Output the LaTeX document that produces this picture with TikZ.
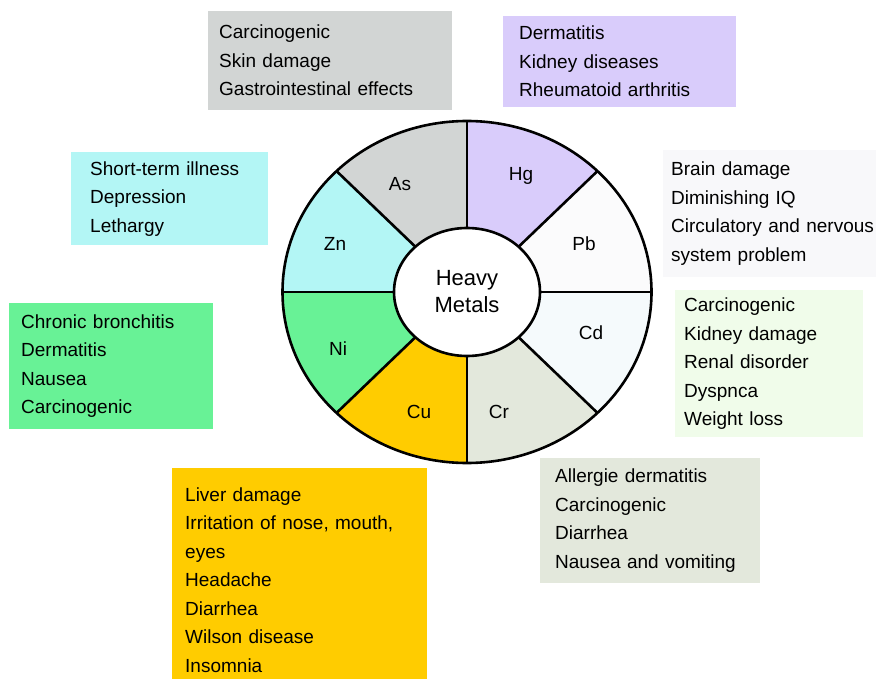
\documentclass[tikz,border=0pt]{standalone}
\usepackage{fontspec}
\setmainfont{Liberation Sans}
\definecolor{asgray}{HTML}{D2D5D4}
\definecolor{hgviolet}{HTML}{D9CCFB}
\definecolor{pbwhite}{HTML}{FBFBFC}
\definecolor{pbbox}{HTML}{F8F8FA}
\definecolor{cdwhite}{HTML}{F5FAFC}
\definecolor{cdbox}{HTML}{F0FCEA}
\definecolor{crgray}{HTML}{E3E8DC}
\definecolor{cuyellow}{HTML}{FFCC00}
\definecolor{nigreen}{HTML}{68F296}
\definecolor{zncyan}{HTML}{B3F6F5}

\begin{document}
\begin{tikzpicture}[x=1pt,y=-1pt,
  symbox/.style={anchor=north west,align=left,inner ysep=0pt,font=\fontsize{19}{28.5}\selectfont},
  metal/.style={font=\fontsize{19}{22}\selectfont},
  rim/.style={line width=2.6pt}]
\useasboundingbox (0,0) rectangle (876,679);

\node[symbox,fill=asgray,inner xsep=11pt,text width=222pt,minimum height=99pt] (asbox) at (208,11) {Carcinogenic\\Skin damage\\Gastrointestinal effects};
\node[symbox,fill=hgviolet,inner xsep=16pt,text width=201pt,minimum height=91pt] (hgbox) at (503,16) {Dermatitis\\Kidney diseases\\Rheumatoid arthritis};
\node[symbox,fill=zncyan,inner xsep=19pt,text width=159pt,minimum height=93pt] (znbox) at (71,152) {Short-term illness\\Depression\\Lethargy};
\node[symbox,fill=nigreen,inner xsep=12pt,text width=180pt,minimum height=126pt] (nibox) at (9,303) {Chronic bronchitis\\Dermatitis\\Nausea\\Carcinogenic};
\node[symbox,fill=pbbox,inner xsep=8pt,text width=205pt,minimum height=127pt] (pbbox) at (663,150) {Brain damage\\Diminishing IQ\\Circulatory and nervous\\system problem};
\node[symbox,fill=cdbox,inner xsep=9pt,text width=170pt,minimum height=147pt] (cdbox) at (675,290) {Carcinogenic\\Kidney damage\\Renal disorder\\Dyspnca\\Weight loss};
\node[symbox,fill=crgray,inner xsep=15pt,text width=190pt,minimum height=125pt] (crbox) at (540,458) {Allergie dermatitis\\Carcinogenic\\Diarrhea\\Nausea and vomiting};
\node[symbox,fill=cuyellow,inner xsep=13pt,text width=229pt,minimum height=224pt] (cubox) at (172,468) {Liver damage\\Irritation of nose, mouth,\\eyes\\Headache\\Diarrhea\\Wilson disease\\Insomnia};

\begin{scope}[shift={(467,292)},y=1pt]
\foreach \a/\b/\c in {0/45/pbwhite,45/90/hgviolet,90/135/asgray,135/180/zncyan,180/225/nigreen,225/270/cuyellow,270/315/crgray,315/360/cdwhite}
  \fill[\c] (\a:184.5 and 171) arc[start angle=\a,end angle=\b,x radius=184.5,y radius=171] -- (\b:73 and 64) arc[start angle=\b,end angle=\a,x radius=73,y radius=64] -- cycle;
\foreach \a in {0,45,...,315}
  \draw[rim] (\a:73 and 64) -- (\a:184.5 and 171);
\draw[rim] (0,0) ellipse[x radius=184.5,y radius=171];
\draw[rim,fill=white] (0,0) ellipse[x radius=73,y radius=64];
\end{scope}

\node[align=center,font=\fontsize{22}{27}\selectfont] (heavy) at (467,292) {Heavy\\Metals};
\node[metal] (as) at (400,184) {As};
\node[metal] (hg) at (521,176) {Hg};
\node[metal] (zn) at (335,244) {Zn};
\node[metal] (pb) at (584,244) {Pb};
\node[metal] (ni) at (338,349) {Ni};
\node[metal] (cd) at (591,333) {Cd};
\node[metal] (cu) at (419,412) {Cu};
\node[metal] (cr) at (499,412) {Cr};
\end{tikzpicture}
\end{document}
